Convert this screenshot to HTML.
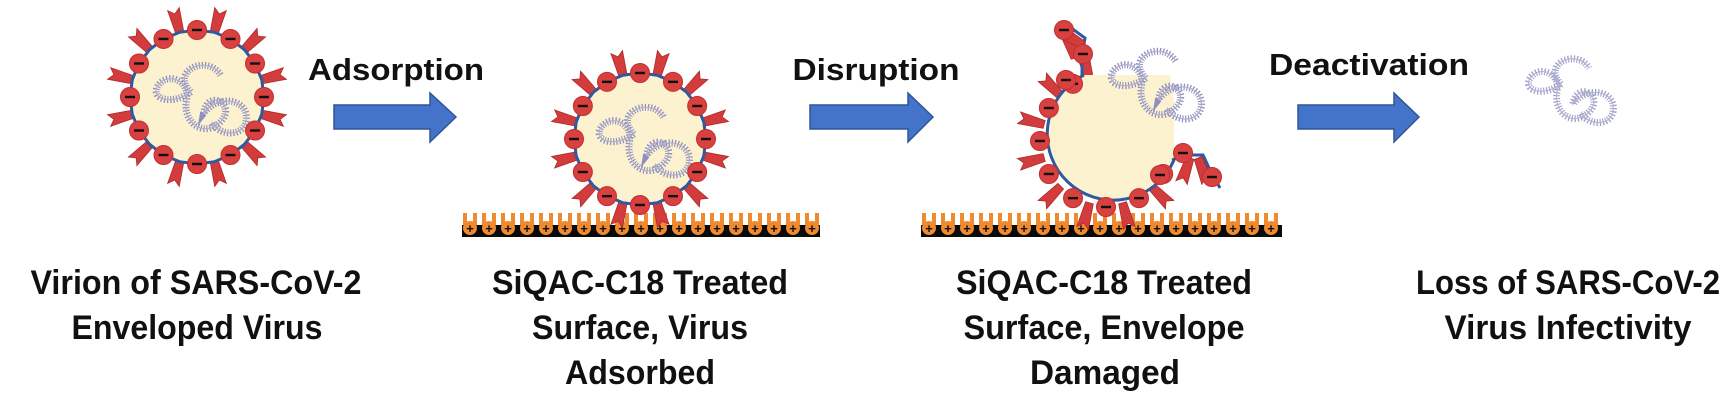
<!DOCTYPE html>
<html><head><meta charset="utf-8"><style>
html,body{margin:0;padding:0;background:#fff;width:1736px;height:405px;overflow:hidden}
svg{display:block}
text{font-family:"Liberation Sans",sans-serif;font-weight:bold;fill:#111}
</style></head><body>
<svg id="s" width="1736" height="405" viewBox="0 0 1736 405" xmlns="http://www.w3.org/2000/svg">
<g id="g"></g>
<g fill="#4374c9" stroke="#2f5597" stroke-width="1.5">
<polygon points="334,105 430,105 430,93 456,117 430,142 430,129 334,129"/>
<polygon points="810,105 908,105 908,93 933,117 908,142 908,129 810,129"/>
<polygon points="1298,105 1394,105 1394,93 1419,117 1394,142 1394,129 1298,129"/>
</g>
<text x="396" y="80" font-size="31" text-anchor="middle" textLength="176" lengthAdjust="spacingAndGlyphs">Adsorption</text>
<text x="876" y="80" font-size="31" text-anchor="middle" textLength="167" lengthAdjust="spacingAndGlyphs">Disruption</text>
<text x="1369" y="75" font-size="31" text-anchor="middle" textLength="200" lengthAdjust="spacingAndGlyphs">Deactivation</text>

<g font-size="34" text-anchor="middle">
<text x="196" y="294" textLength="331" lengthAdjust="spacingAndGlyphs">Virion of SARS-CoV-2</text>
<text x="197" y="339" textLength="251" lengthAdjust="spacingAndGlyphs">Enveloped Virus</text>
<text x="640" y="294" textLength="296" lengthAdjust="spacingAndGlyphs">SiQAC-C18 Treated</text>
<text x="640" y="339" textLength="216" lengthAdjust="spacingAndGlyphs">Surface, Virus</text>
<text x="640" y="384" textLength="150" lengthAdjust="spacingAndGlyphs">Adsorbed</text>
<text x="1104" y="294" textLength="296" lengthAdjust="spacingAndGlyphs">SiQAC-C18 Treated</text>
<text x="1104" y="339" textLength="281" lengthAdjust="spacingAndGlyphs">Surface, Envelope</text>
<text x="1105" y="384" textLength="150" lengthAdjust="spacingAndGlyphs">Damaged</text>
<text x="1568" y="294" textLength="304" lengthAdjust="spacingAndGlyphs">Loss of SARS-CoV-2</text>
<text x="1568" y="339" textLength="247" lengthAdjust="spacingAndGlyphs">Virus Infectivity</text>
</g>
</svg>
<script>
var NS="http://www.w3.org/2000/svg",G=document.getElementById("g");
function el(t,a,p){var e=document.createElementNS(NS,t);for(var k in a)e.setAttribute(k,a[k]);(p||G).appendChild(e);return e;}
function spike(x,y,ang,len){
  var c=Math.cos(ang),s=Math.sin(ang),px=-s,py=c,w=4;
  var ex=x+c*len,ey=y+s*len;
  var pts=[[x+px*w,y+py*w],[ex+px*(w+2),ey+py*(w+2)],[ex-c*5,ey-s*5],[ex-px*(w+2),ey-py*(w+2)],[x-px*w,y-py*w]];
  el("polygon",{points:pts.map(function(p){return p.join(",")}).join(" "),fill:"#d23c3c",stroke:"#b02a2a","stroke-width":0.8});
}
function bead(x,y){el("circle",{cx:x,cy:y,r:9.5,fill:"#d94040",stroke:"#c03030","stroke-width":1});el("rect",{x:x-5,y:y-1.2,width:10,height:2.4,fill:"#111"});}
function rna(cx,cy,sc,op){
  var d="M"+(cx-5*sc)+","+(cy-20*sc)+" c"+[-25*sc,-25*sc,20*sc,-45*sc,35*sc,-20*sc].join(",")+
  " M"+(cx-5*sc)+","+(cy-20*sc)+" c"+[-20*sc,15*sc,-45*sc,10*sc,-40*sc,-5*sc].join(",")+
  " c"+[10*sc,-20*sc,40*sc,-10*sc,35*sc,15*sc].join(",")+
  " c"+[-5*sc,25*sc,20*sc,45*sc,40*sc,25*sc].join(",")+
  " c"+[20*sc,-20*sc,-15*sc,-40*sc,-20*sc,-10*sc].join(",")+
  " c"+[20*sc,-25*sc,55*sc,-15*sc,50*sc,10*sc].join(",")+
  " c"+[-5*sc,20*sc,-35*sc,15*sc,-40*sc,0].join(",");
  el("path",{d:d,fill:"none",stroke:"#8f8fbf","stroke-width":7,"stroke-dasharray":"1.2 1.8",opacity:op||1});
  el("path",{d:d,fill:"none",stroke:"#b0b0d0","stroke-width":1.2,opacity:op||1});
}
function virus(cx,cy,r){
  for(var i=0;i<12;i++){var a=(i+0.5)*2*Math.PI/12-Math.PI/2;spike(cx+Math.cos(a)*(r-2),cy+Math.sin(a)*(r-2),a,26);}
}
function poly(cx,cy,r){var p=[];for(var i=0;i<24;i++){var a=i*Math.PI/12;p.push((cx+Math.cos(a)*r)+","+(cy+Math.sin(a)*r));}return p.join(" ");}
function full(cx,cy,r){
  virus(cx,cy,r);
  el("polygon",{points:poly(cx,cy,r),fill:"#fdf2cf",stroke:"#2e5aa0","stroke-width":3});
  rna(cx-2,cy+12,0.85);
  for(var i=0;i<12;i++){var a=i*Math.PI/6-Math.PI/2;bead(cx+Math.cos(a)*r,cy+Math.sin(a)*r);}
}
function surface(x0,x1){
  el("rect",{x:x0,y:225,width:x1-x0,height:12,fill:"#0a0a0a"});
  for(var x=x0+8;x<x1-4;x+=19){
    el("rect",{x:x-7,y:213,width:4,height:12,fill:"#f08a30"});
    el("rect",{x:x+3,y:213,width:4,height:12,fill:"#f08a30"});
    el("circle",{cx:x,cy:228,r:7,fill:"#f08a30"});
    el("text",{x:x,y:233,"font-size":13,"text-anchor":"middle",fill:"#111"}).textContent="+";
  }
}
full(197,97,67);
surface(462,820);
full(640,139,66);
surface(921,1282);
(function(){
  var cx=1106,cy=141,r=66;
  for(var i=0;i<12;i++){var a=(i+0.5)*Math.PI/6-Math.PI/2;var deg=a*180/Math.PI; if(deg>-110&&deg<20)continue;spike(cx+Math.cos(a)*(r-2),cy+Math.sin(a)*(r-2),a,26);}
  el("path",{d:"M1084,75 L1170,75 L1174,100 L1174,160 A66,66 0 1 1 1084,75 Z",fill:"#fdf2cf"});
  el("path",{d:"M1084,75 A66,66 0 1 0 1174,160",fill:"none",stroke:"#2e5aa0","stroke-width":3});
  for(var i=0;i<12;i++){var a=i*Math.PI/6-Math.PI/2;var deg=a*180/Math.PI;if(deg>-100&&deg<20)continue;bead(cx+Math.cos(a)*r,cy+Math.sin(a)*r);}
  el("polyline",{points:"1082,76 1082,56 1085,38 1063,22",fill:"none",stroke:"#2e5aa0","stroke-width":3});
  spike(1075,58,-1.9,22);spike(1083,45,-2.6,24);
  bead(1064,30);bead(1083,54);bead(1066,80);
  el("polyline",{points:"1172,160 1185,155 1203,155 1210,170 1220,188",fill:"none",stroke:"#2e5aa0","stroke-width":3});
  spike(1190,158,1.9,26);spike(1198,158,1.2,26);
  bead(1160,175);bead(1183,153);bead(1212,177);
  rna(1150,95,0.85);
})();
rna(1565,100,0.8,0.85);
</script>
</body></html>
